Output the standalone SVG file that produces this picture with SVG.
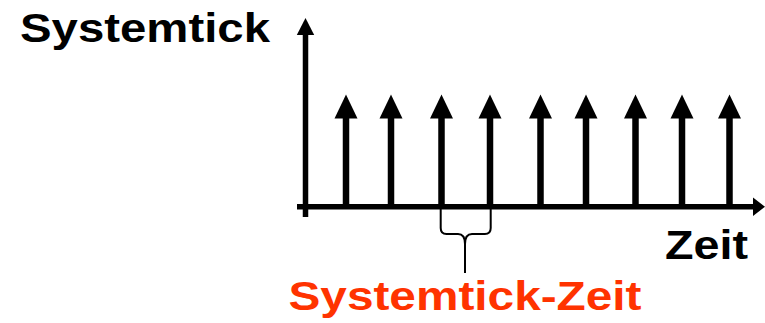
<svg xmlns="http://www.w3.org/2000/svg" width="765" height="323" viewBox="0 0 765 323">
<style>
.lbl{font-family:"Liberation Sans",Arial,sans-serif;font-weight:bold;font-size:41px}
.shaft{stroke:#000;stroke-width:6.5;fill:none}
.head{fill:#000}
.axis{stroke:#000;stroke-width:5.5;fill:none}
.brace{stroke:#000;stroke-width:2;fill:none}
</style>
<rect width="765" height="323" fill="#fff"/>
<g id="y-axis">
<line class="axis" x1="305.5" y1="217" x2="305.5" y2="33"/>
<polygon class="head" points="305.5,18 296.8,35 314.2,35"/>
</g>
<g id="x-axis">
<line class="axis" x1="297" y1="206.7" x2="755" y2="206.7"/>
<polygon class="head" points="765,206.7 753,197.5 753,216"/>
</g>
<g id="ticks">
<g id="tick1"><line class="shaft" x1="346" y1="206" x2="346" y2="116"/><polygon class="head" points="346,94.5 334.5,118.5 357.5,118.5"/></g>
<g id="tick2"><line class="shaft" x1="391" y1="206" x2="391" y2="116"/><polygon class="head" points="391,94.5 379.5,118.5 402.5,118.5"/></g>
<g id="tick3"><line class="shaft" x1="441.5" y1="206" x2="441.5" y2="116"/><polygon class="head" points="441.5,94.5 430,118.5 453,118.5"/></g>
<g id="tick4"><line class="shaft" x1="490" y1="206" x2="490" y2="116"/><polygon class="head" points="490,94.5 478.5,118.5 501.5,118.5"/></g>
<g id="tick5"><line class="shaft" x1="540.5" y1="206" x2="540.5" y2="116"/><polygon class="head" points="540.5,94.5 529,118.5 552,118.5"/></g>
<g id="tick6"><line class="shaft" x1="586" y1="206" x2="586" y2="116"/><polygon class="head" points="586,94.5 574.5,118.5 597.5,118.5"/></g>
<g id="tick7"><line class="shaft" x1="635.5" y1="206" x2="635.5" y2="116"/><polygon class="head" points="635.5,94.5 624,118.5 647,118.5"/></g>
<g id="tick8"><line class="shaft" x1="682" y1="206" x2="682" y2="116"/><polygon class="head" points="682,94.5 670.5,118.5 693.5,118.5"/></g>
<g id="tick9"><line class="shaft" x1="729.5" y1="206" x2="729.5" y2="116"/><polygon class="head" points="729.5,94.5 718,118.5 741,118.5"/></g>
</g>
<g id="brace">
<path class="brace" d="M440.7,209 V228 Q440.7,234 446.5,234 H458 Q465,234 465,244 V273"/>
<path class="brace" d="M490.7,209 V228 Q490.7,234 484.9,234 H472 Q465,234 465,244"/>
</g>
<g id="label-systemtick"><text class="lbl" x="20" y="42" textLength="250" lengthAdjust="spacingAndGlyphs" fill="#000">Systemtick</text></g>
<g id="label-zeit"><text class="lbl" x="665" y="258.5" textLength="83" lengthAdjust="spacingAndGlyphs" fill="#000">Zeit</text></g>
<g id="label-systemtick-zeit"><text class="lbl" x="288.5" y="310" textLength="353" lengthAdjust="spacingAndGlyphs" fill="#FF3300">Systemtick-Zeit</text></g>
</svg>
